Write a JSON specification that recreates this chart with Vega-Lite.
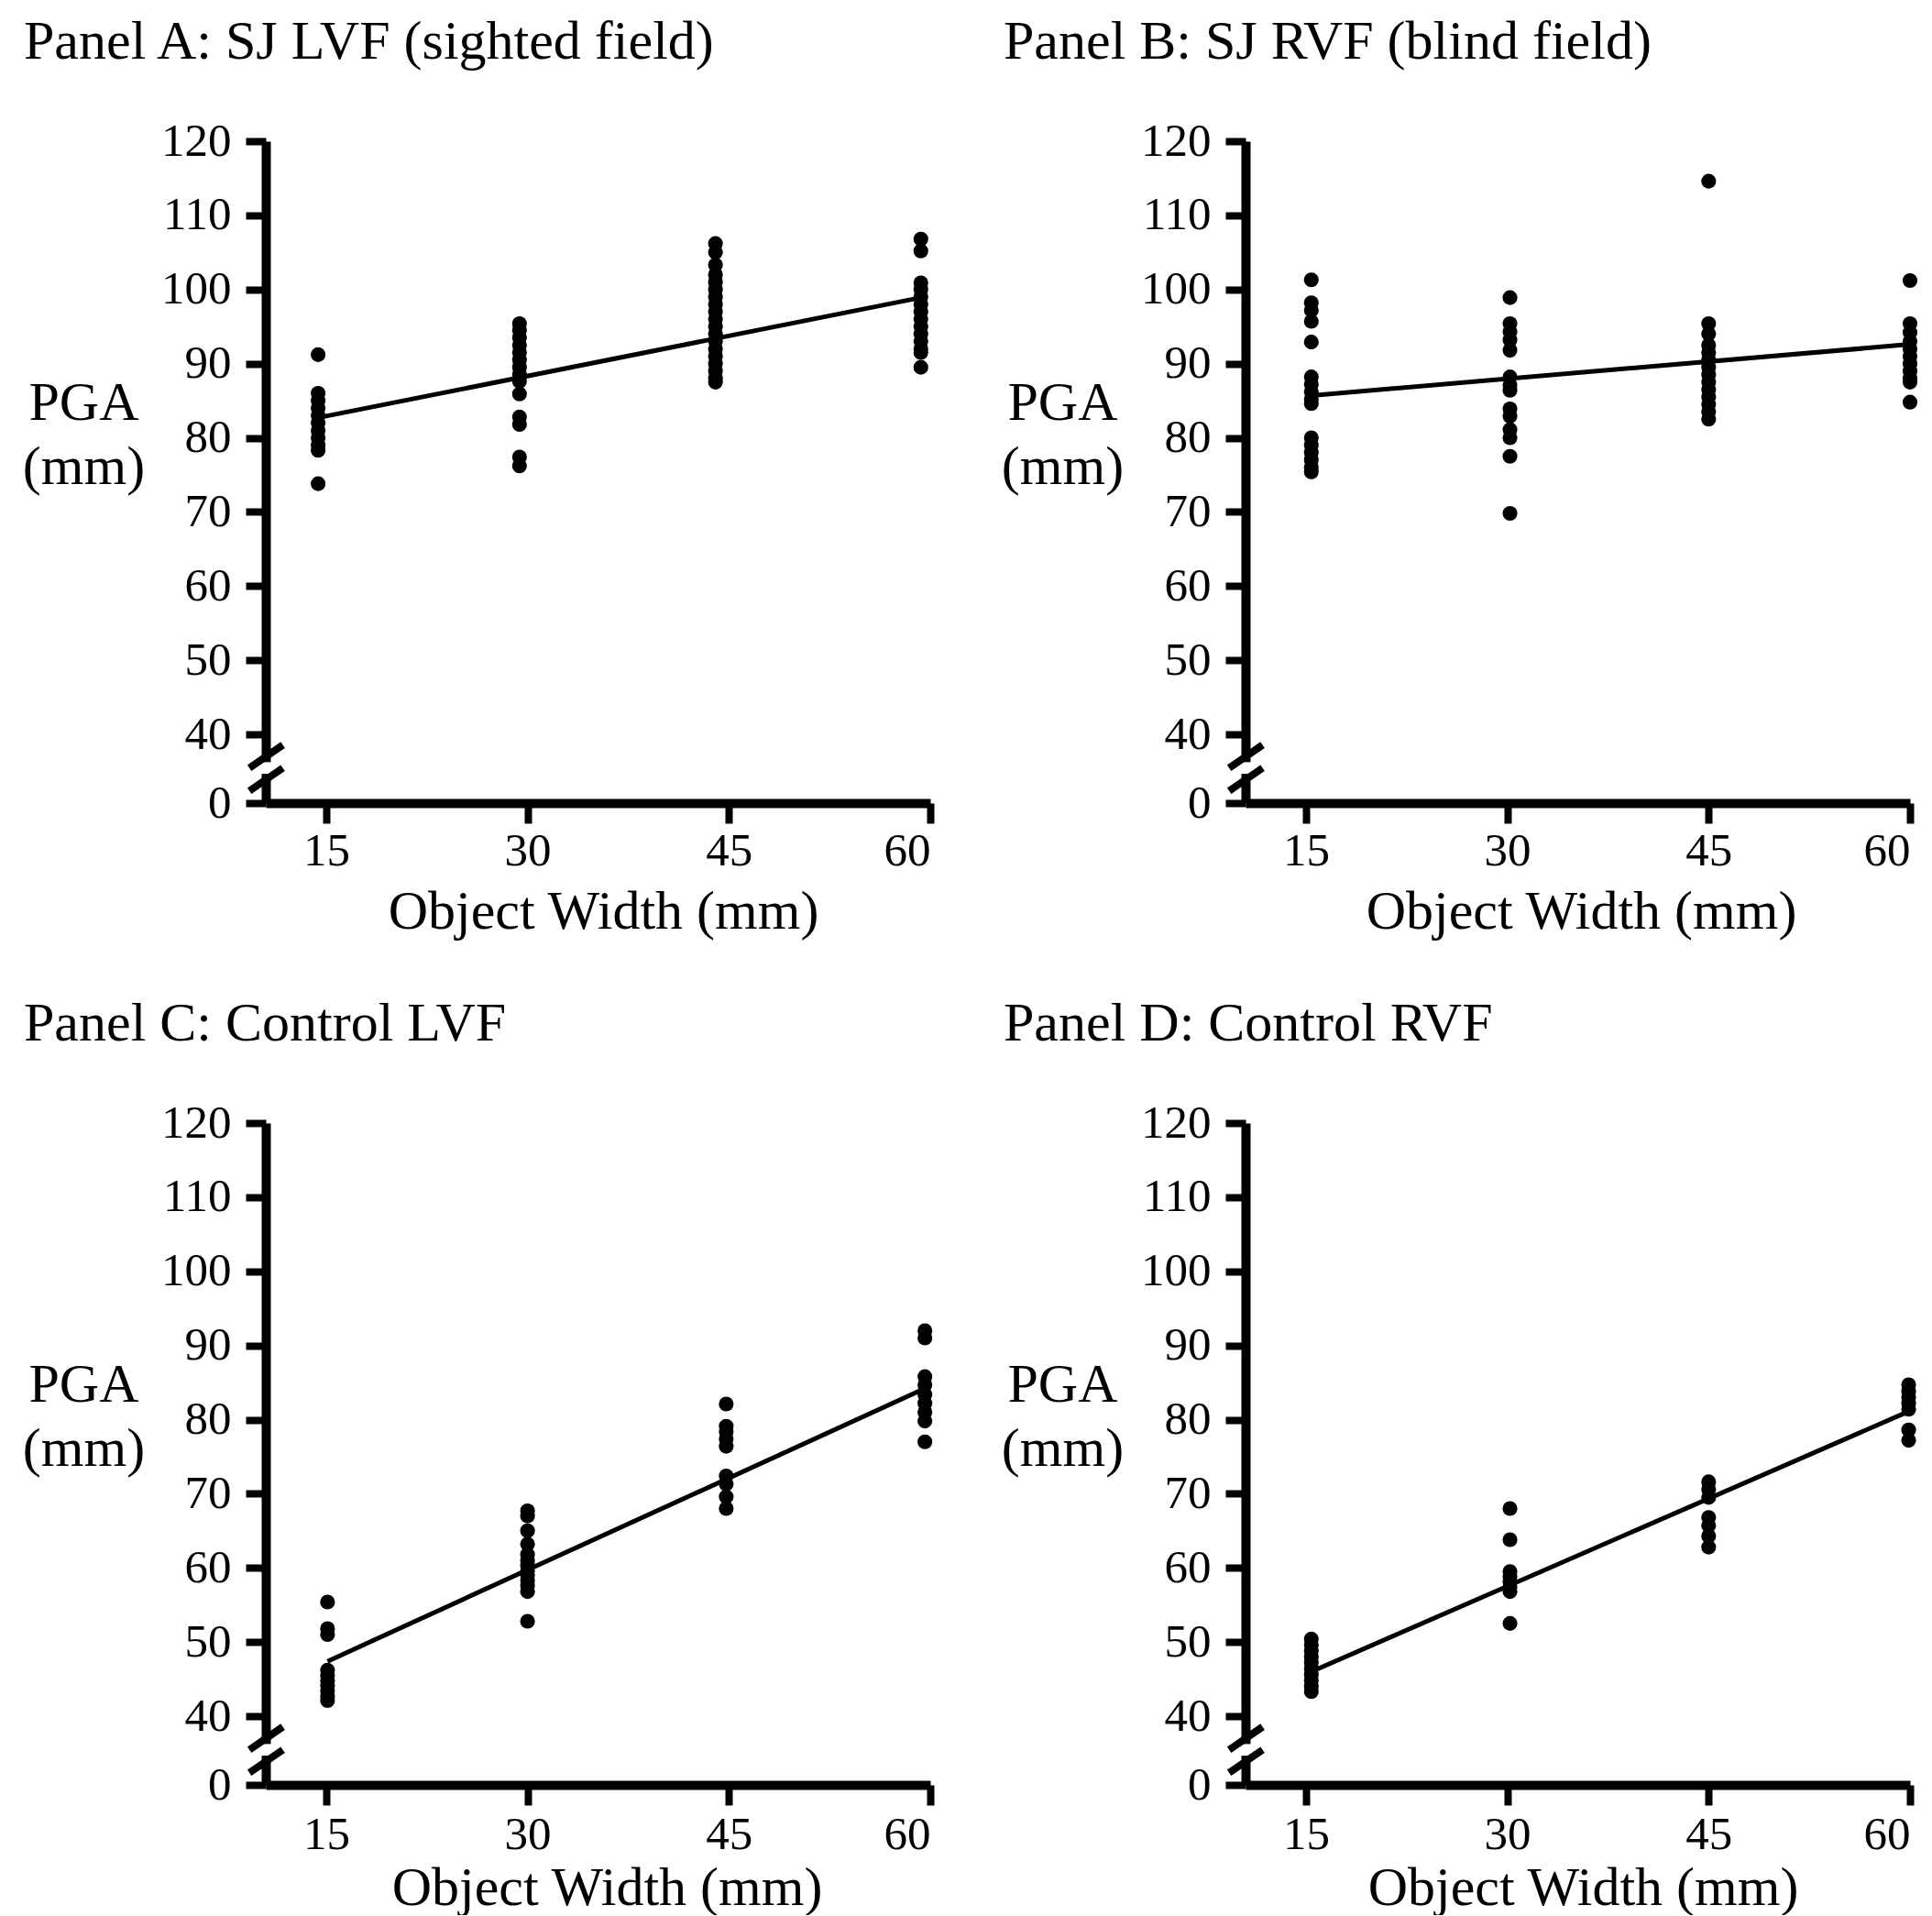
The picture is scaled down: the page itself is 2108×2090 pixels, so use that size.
{
  "$schema": "https://vega.github.io/schema/vega-lite/v6.json",
  "background": "white",
  "padding": {"left": 24, "top": 16, "right": 0, "bottom": 0},
  "config": {
    "view": {"stroke": null},
    "axis": {
      "grid": false,
      "domainColor": "black", "domainWidth": 10,
      "tickColor": "black", "tickWidth": 8, "tickSize": 22,
      "labelFont": "Liberation Serif", "labelFontSize": 51, "labelColor": "black",
      "titleFont": "Liberation Serif", "titleFontSize": 60, "titleFontWeight": "normal", "titleColor": "black"
    },
    "title": {"font": "Liberation Serif", "fontSize": 60, "fontWeight": "normal", "color": "black", "anchor": "start", "frame": "group"}
  },
  "datasets": {
    "pts": [
      {"panel":"A","width":14.4,"pga":91.2},{"panel":"A","width":14.4,"pga":86},{"panel":"A","width":14.4,"pga":85},{"panel":"A","width":14.4,"pga":84},{"panel":"A","width":14.4,"pga":83},{"panel":"A","width":14.4,"pga":82},{"panel":"A","width":14.4,"pga":81},{"panel":"A","width":14.4,"pga":80},{"panel":"A","width":14.4,"pga":79},{"panel":"A","width":14.4,"pga":78.3},{"panel":"A","width":14.4,"pga":73.8},
      {"panel":"A","width":29.4,"pga":95.4},{"panel":"A","width":29.4,"pga":94.5},{"panel":"A","width":29.4,"pga":93.5},{"panel":"A","width":29.4,"pga":92.5},{"panel":"A","width":29.4,"pga":91.5},{"panel":"A","width":29.4,"pga":90.5},{"panel":"A","width":29.4,"pga":89.5},{"panel":"A","width":29.4,"pga":88.5},{"panel":"A","width":29.4,"pga":87.6},{"panel":"A","width":29.4,"pga":85.9},{"panel":"A","width":29.4,"pga":82.8},{"panel":"A","width":29.4,"pga":81.8},{"panel":"A","width":29.4,"pga":77.4},{"panel":"A","width":29.4,"pga":76.2},
      {"panel":"A","width":44.0,"pga":106.2},{"panel":"A","width":44.0,"pga":105},{"panel":"A","width":44.0,"pga":103.3},{"panel":"A","width":44.0,"pga":102},{"panel":"A","width":44.0,"pga":101},{"panel":"A","width":44.0,"pga":100},{"panel":"A","width":44.0,"pga":99},{"panel":"A","width":44.0,"pga":98},{"panel":"A","width":44.0,"pga":97},{"panel":"A","width":44.0,"pga":96},{"panel":"A","width":44.0,"pga":95},{"panel":"A","width":44.0,"pga":94},{"panel":"A","width":44.0,"pga":93},{"panel":"A","width":44.0,"pga":92},{"panel":"A","width":44.0,"pga":91},{"panel":"A","width":44.0,"pga":90},{"panel":"A","width":44.0,"pga":89},{"panel":"A","width":44.0,"pga":88},{"panel":"A","width":44.0,"pga":87.5},
      {"panel":"A","width":59.3,"pga":106.8},{"panel":"A","width":59.3,"pga":105.2},{"panel":"A","width":59.3,"pga":100.9},{"panel":"A","width":59.3,"pga":100},{"panel":"A","width":59.3,"pga":99},{"panel":"A","width":59.3,"pga":98},{"panel":"A","width":59.3,"pga":97},{"panel":"A","width":59.3,"pga":96},{"panel":"A","width":59.3,"pga":95},{"panel":"A","width":59.3,"pga":94},{"panel":"A","width":59.3,"pga":93},{"panel":"A","width":59.3,"pga":92},{"panel":"A","width":59.3,"pga":91.5},{"panel":"A","width":59.3,"pga":89.5},
      {"panel":"B","width":15.4,"pga":101.3},{"panel":"B","width":15.4,"pga":98.2},{"panel":"B","width":15.4,"pga":97.2},{"panel":"B","width":15.4,"pga":95.7},{"panel":"B","width":15.4,"pga":92.9},{"panel":"B","width":15.4,"pga":88.2},{"panel":"B","width":15.4,"pga":87.2},{"panel":"B","width":15.4,"pga":86.2},{"panel":"B","width":15.4,"pga":85.2},{"panel":"B","width":15.4,"pga":84.6},{"panel":"B","width":15.4,"pga":80},{"panel":"B","width":15.4,"pga":79},{"panel":"B","width":15.4,"pga":78},{"panel":"B","width":15.4,"pga":77},{"panel":"B","width":15.4,"pga":76},{"panel":"B","width":15.4,"pga":75.4},
      {"panel":"B","width":30.2,"pga":98.9},{"panel":"B","width":30.2,"pga":95.4},{"panel":"B","width":30.2,"pga":94.3},{"panel":"B","width":30.2,"pga":93.2},{"panel":"B","width":30.2,"pga":91.8},{"panel":"B","width":30.2,"pga":88.2},{"panel":"B","width":30.2,"pga":87.1},{"panel":"B","width":30.2,"pga":86.4},{"panel":"B","width":30.2,"pga":83.9},{"panel":"B","width":30.2,"pga":82.9},{"panel":"B","width":30.2,"pga":81.1},{"panel":"B","width":30.2,"pga":80},{"panel":"B","width":30.2,"pga":77.5},{"panel":"B","width":30.2,"pga":69.8},
      {"panel":"B","width":45,"pga":114.6},{"panel":"B","width":45,"pga":95.4},{"panel":"B","width":45,"pga":94},{"panel":"B","width":45,"pga":92.5},{"panel":"B","width":45,"pga":91.5},{"panel":"B","width":45,"pga":90.5},{"panel":"B","width":45,"pga":89.5},{"panel":"B","width":45,"pga":88.5},{"panel":"B","width":45,"pga":87.5},{"panel":"B","width":45,"pga":86.5},{"panel":"B","width":45,"pga":85.5},{"panel":"B","width":45,"pga":84.5},{"panel":"B","width":45,"pga":83.5},{"panel":"B","width":45,"pga":82.5},
      {"panel":"B","width":60,"pga":101.2},{"panel":"B","width":60,"pga":95.4},{"panel":"B","width":60,"pga":94.2},{"panel":"B","width":60,"pga":93},{"panel":"B","width":60,"pga":92},{"panel":"B","width":60,"pga":91},{"panel":"B","width":60,"pga":90},{"panel":"B","width":60,"pga":89},{"panel":"B","width":60,"pga":88},{"panel":"B","width":60,"pga":87.5},{"panel":"B","width":60,"pga":84.8},
      {"panel":"C","width":15.1,"pga":55.4},{"panel":"C","width":15.1,"pga":51.8},{"panel":"C","width":15.1,"pga":51},{"panel":"C","width":15.1,"pga":46.2},{"panel":"C","width":15.1,"pga":45.5},{"panel":"C","width":15.1,"pga":44.8},{"panel":"C","width":15.1,"pga":44.1},{"panel":"C","width":15.1,"pga":43.4},{"panel":"C","width":15.1,"pga":42.7},{"panel":"C","width":15.1,"pga":42.1},
      {"panel":"C","width":30,"pga":67.7},{"panel":"C","width":30,"pga":67},{"panel":"C","width":30,"pga":65},{"panel":"C","width":30,"pga":63.2},{"panel":"C","width":30,"pga":61.8},{"panel":"C","width":30,"pga":61},{"panel":"C","width":30,"pga":60.3},{"panel":"C","width":30,"pga":59.6},{"panel":"C","width":30,"pga":59},{"panel":"C","width":30,"pga":58.3},{"panel":"C","width":30,"pga":57.6},{"panel":"C","width":30,"pga":56.8},{"panel":"C","width":30,"pga":52.8},
      {"panel":"C","width":44.8,"pga":82.1},{"panel":"C","width":44.8,"pga":79.1},{"panel":"C","width":44.8,"pga":78.4},{"panel":"C","width":44.8,"pga":77.4},{"panel":"C","width":44.8,"pga":76.4},{"panel":"C","width":44.8,"pga":72.4},{"panel":"C","width":44.8,"pga":71.3},{"panel":"C","width":44.8,"pga":69.6},{"panel":"C","width":44.8,"pga":68},
      {"panel":"C","width":59.6,"pga":92},{"panel":"C","width":59.6,"pga":91},{"panel":"C","width":59.6,"pga":85.8},{"panel":"C","width":59.6,"pga":84.7},{"panel":"C","width":59.6,"pga":83.4},{"panel":"C","width":59.6,"pga":82.2},{"panel":"C","width":59.6,"pga":81},{"panel":"C","width":59.6,"pga":79.8},{"panel":"C","width":59.6,"pga":77},
      {"panel":"D","width":15.4,"pga":50.4},{"panel":"D","width":15.4,"pga":49.6},{"panel":"D","width":15.4,"pga":48.8},{"panel":"D","width":15.4,"pga":48},{"panel":"D","width":15.4,"pga":47.2},{"panel":"D","width":15.4,"pga":46.4},{"panel":"D","width":15.4,"pga":45.6},{"panel":"D","width":15.4,"pga":44.8},{"panel":"D","width":15.4,"pga":44},{"panel":"D","width":15.4,"pga":43.3},
      {"panel":"D","width":30.2,"pga":68},{"panel":"D","width":30.2,"pga":63.8},{"panel":"D","width":30.2,"pga":59.5},{"panel":"D","width":30.2,"pga":58.8},{"panel":"D","width":30.2,"pga":58.1},{"panel":"D","width":30.2,"pga":57.4},{"panel":"D","width":30.2,"pga":56.8},{"panel":"D","width":30.2,"pga":52.5},
      {"panel":"D","width":45,"pga":71.6},{"panel":"D","width":45,"pga":70.6},{"panel":"D","width":45,"pga":69.5},{"panel":"D","width":45,"pga":66.8},{"panel":"D","width":45,"pga":65.7},{"panel":"D","width":45,"pga":64.3},{"panel":"D","width":45,"pga":62.8},
      {"panel":"D","width":59.9,"pga":84.7},{"panel":"D","width":59.9,"pga":83.8},{"panel":"D","width":59.9,"pga":83},{"panel":"D","width":59.9,"pga":82.2},{"panel":"D","width":59.9,"pga":81.4},{"panel":"D","width":59.9,"pga":78.6},{"panel":"D","width":59.9,"pga":77.2}
    ],
    "fit": [
      {"panel":"A","width":14.4,"pga":82.7},{"panel":"A","width":59.3,"pga":98.9},
      {"panel":"B","width":15.4,"pga":85.7},{"panel":"B","width":60,"pga":92.6},
      {"panel":"C","width":15.1,"pga":47.4},{"panel":"C","width":59.6,"pga":84.2},
      {"panel":"D","width":15.4,"pga":46},{"panel":"D","width":59.9,"pga":81.1}
    ]
  },
  "columns": 2,
  "bounds": "flush",
  "spacing": {"column": 344, "row": 349},
  "concat": [
    {
      "title": {"text": "Panel A: SJ LVF (sighted field)", "dx": -264, "offset": 4, "baseline": "alphabetic"},
      "width": 725, "height": 722,
      "layer": [
        {"data": {"name": "pts"}, "transform": [{"filter": "datum.panel === 'A'"}],
         "mark": {"type": "circle", "size": 260, "color": "black", "opacity": 1},
         "encoding": {
           "x": {"field": "width", "type": "quantitative", "scale": {"domain": [10.5, 60], "nice": false, "zero": false},
                 "axis": {"values": [15, 30, 45, 60], "title": "Object Width (mm)", "titleX": 368, "titleY": 136, "titleAlign": "center", "titleBaseline": "alphabetic", "labelPadding": 5, "labelOverlap": false}},
           "y": {"field": "pga", "type": "quantitative", "scale": {"domain": [0, 40, 120], "range": [722, 647, 0], "nice": false, "zero": false},
                 "axis": {"values": [0, 40, 50, 60, 70, 80, 90, 100, 110, 120], "title": ["PGA", "(mm)"], "titleAngle": 0, "titleX": -199, "titleY": 303, "titleAlign": "center", "titleBaseline": "alphabetic", "titleLineHeight": 70, "labelPadding": 16, "labelOverlap": false}}
         }},
        {"data": {"name": "fit"}, "transform": [{"filter": "datum.panel === 'A'"}],
         "mark": {"type": "line", "color": "black", "strokeWidth": 5},
         "encoding": {"x": {"field": "width", "type": "quantitative"}, "y": {"field": "pga", "type": "quantitative"}}},
        {"data": {"values": [{}]}, "mark": {"type": "rule", "color": "white", "strokeWidth": 14},
         "encoding": {"x": {"datum": 10.5}, "y": {"datum": 17}, "y2": {"datum": 23.8}}},
        {"data": {"values": [{}]}, "mark": {"type": "rule", "color": "black", "strokeWidth": 8},
         "encoding": {"x": {"datum": 9.28}, "y": {"datum": 20.4}, "x2": {"datum": 11.77}, "y2": {"datum": 33.8}}},
        {"data": {"values": [{}]}, "mark": {"type": "rule", "color": "black", "strokeWidth": 8},
         "encoding": {"x": {"datum": 9.28}, "y": {"datum": 7.1}, "x2": {"datum": 11.77}, "y2": {"datum": 20.4}}}
      ]
    },
    {
      "title": {"text": "Panel B: SJ RVF (blind field)", "dx": -264, "offset": 4, "baseline": "alphabetic"},
      "width": 725, "height": 722,
      "layer": [
        {"data": {"name": "pts"}, "transform": [{"filter": "datum.panel === 'B'"}],
         "mark": {"type": "circle", "size": 260, "color": "black", "opacity": 1},
         "encoding": {
           "x": {"field": "width", "type": "quantitative", "scale": {"domain": [10.5, 60], "nice": false, "zero": false},
                 "axis": {"values": [15, 30, 45, 60], "title": "Object Width (mm)", "titleX": 366, "titleY": 136, "titleAlign": "center", "titleBaseline": "alphabetic", "labelPadding": 5, "labelOverlap": false}},
           "y": {"field": "pga", "type": "quantitative", "scale": {"domain": [0, 40, 120], "range": [722, 647, 0], "nice": false, "zero": false},
                 "axis": {"values": [0, 40, 50, 60, 70, 80, 90, 100, 110, 120], "title": ["PGA", "(mm)"], "titleAngle": 0, "titleX": -200, "titleY": 303, "titleAlign": "center", "titleBaseline": "alphabetic", "titleLineHeight": 70, "labelPadding": 16, "labelOverlap": false}}
         }},
        {"data": {"name": "fit"}, "transform": [{"filter": "datum.panel === 'B'"}],
         "mark": {"type": "line", "color": "black", "strokeWidth": 5},
         "encoding": {"x": {"field": "width", "type": "quantitative"}, "y": {"field": "pga", "type": "quantitative"}}},
        {"data": {"values": [{}]}, "mark": {"type": "rule", "color": "white", "strokeWidth": 14},
         "encoding": {"x": {"datum": 10.5}, "y": {"datum": 17}, "y2": {"datum": 23.8}}},
        {"data": {"values": [{}]}, "mark": {"type": "rule", "color": "black", "strokeWidth": 8},
         "encoding": {"x": {"datum": 9.28}, "y": {"datum": 20.4}, "x2": {"datum": 11.77}, "y2": {"datum": 33.8}}},
        {"data": {"values": [{}]}, "mark": {"type": "rule", "color": "black", "strokeWidth": 8},
         "encoding": {"x": {"datum": 9.28}, "y": {"datum": 7.1}, "x2": {"datum": 11.77}, "y2": {"datum": 20.4}}}
      ]
    },
    {
      "title": {"text": "Panel C: Control LVF", "dx": -264, "offset": 4, "baseline": "alphabetic"},
      "width": 725, "height": 722,
      "layer": [
        {"data": {"name": "pts"}, "transform": [{"filter": "datum.panel === 'C'"}],
         "mark": {"type": "circle", "size": 260, "color": "black", "opacity": 1},
         "encoding": {
           "x": {"field": "width", "type": "quantitative", "scale": {"domain": [10.5, 60], "nice": false, "zero": false},
                 "axis": {"values": [15, 30, 45, 60], "title": "Object Width (mm)", "titleX": 372, "titleY": 130, "titleAlign": "center", "titleBaseline": "alphabetic", "labelPadding": 7, "labelOverlap": false}},
           "y": {"field": "pga", "type": "quantitative", "scale": {"domain": [0, 40, 120], "range": [722, 647, 0], "nice": false, "zero": false},
                 "axis": {"values": [0, 40, 50, 60, 70, 80, 90, 100, 110, 120], "title": ["PGA", "(mm)"], "titleAngle": 0, "titleX": -199, "titleY": 303, "titleAlign": "center", "titleBaseline": "alphabetic", "titleLineHeight": 70, "labelPadding": 16, "labelOverlap": false}}
         }},
        {"data": {"name": "fit"}, "transform": [{"filter": "datum.panel === 'C'"}],
         "mark": {"type": "line", "color": "black", "strokeWidth": 5},
         "encoding": {"x": {"field": "width", "type": "quantitative"}, "y": {"field": "pga", "type": "quantitative"}}},
        {"data": {"values": [{}]}, "mark": {"type": "rule", "color": "white", "strokeWidth": 14},
         "encoding": {"x": {"datum": 10.5}, "y": {"datum": 17}, "y2": {"datum": 23.8}}},
        {"data": {"values": [{}]}, "mark": {"type": "rule", "color": "black", "strokeWidth": 8},
         "encoding": {"x": {"datum": 9.28}, "y": {"datum": 20.4}, "x2": {"datum": 11.77}, "y2": {"datum": 33.8}}},
        {"data": {"values": [{}]}, "mark": {"type": "rule", "color": "black", "strokeWidth": 8},
         "encoding": {"x": {"datum": 9.28}, "y": {"datum": 7.1}, "x2": {"datum": 11.77}, "y2": {"datum": 20.4}}}
      ]
    },
    {
      "title": {"text": "Panel D: Control RVF", "dx": -264, "offset": 4, "baseline": "alphabetic"},
      "width": 725, "height": 722,
      "layer": [
        {"data": {"name": "pts"}, "transform": [{"filter": "datum.panel === 'D'"}],
         "mark": {"type": "circle", "size": 260, "color": "black", "opacity": 1},
         "encoding": {
           "x": {"field": "width", "type": "quantitative", "scale": {"domain": [10.5, 60], "nice": false, "zero": false},
                 "axis": {"values": [15, 30, 45, 60], "title": "Object Width (mm)", "titleX": 368, "titleY": 130, "titleAlign": "center", "titleBaseline": "alphabetic", "labelPadding": 7, "labelOverlap": false}},
           "y": {"field": "pga", "type": "quantitative", "scale": {"domain": [0, 40, 120], "range": [722, 647, 0], "nice": false, "zero": false},
                 "axis": {"values": [0, 40, 50, 60, 70, 80, 90, 100, 110, 120], "title": ["PGA", "(mm)"], "titleAngle": 0, "titleX": -200, "titleY": 303, "titleAlign": "center", "titleBaseline": "alphabetic", "titleLineHeight": 70, "labelPadding": 16, "labelOverlap": false}}
         }},
        {"data": {"name": "fit"}, "transform": [{"filter": "datum.panel === 'D'"}],
         "mark": {"type": "line", "color": "black", "strokeWidth": 5},
         "encoding": {"x": {"field": "width", "type": "quantitative"}, "y": {"field": "pga", "type": "quantitative"}}},
        {"data": {"values": [{}]}, "mark": {"type": "rule", "color": "white", "strokeWidth": 14},
         "encoding": {"x": {"datum": 10.5}, "y": {"datum": 17}, "y2": {"datum": 23.8}}},
        {"data": {"values": [{}]}, "mark": {"type": "rule", "color": "black", "strokeWidth": 8},
         "encoding": {"x": {"datum": 9.28}, "y": {"datum": 20.4}, "x2": {"datum": 11.77}, "y2": {"datum": 33.8}}},
        {"data": {"values": [{}]}, "mark": {"type": "rule", "color": "black", "strokeWidth": 8},
         "encoding": {"x": {"datum": 9.28}, "y": {"datum": 7.1}, "x2": {"datum": 11.77}, "y2": {"datum": 20.4}}}
      ]
    }
  ]
}
